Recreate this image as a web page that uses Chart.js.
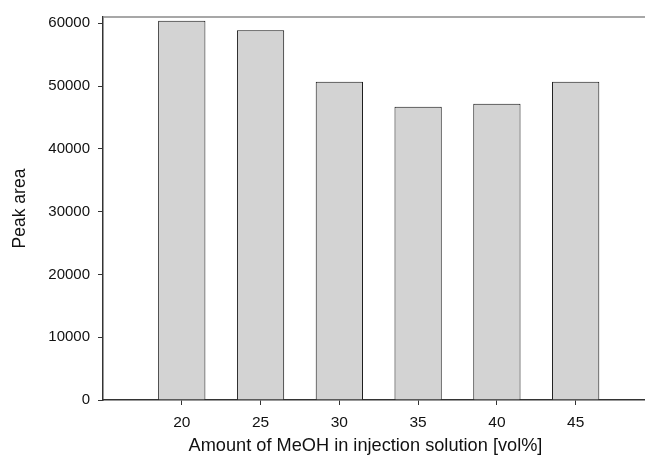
<!DOCTYPE html>
<html>
<head>
<meta charset="utf-8">
<script src="https://cdn.jsdelivr.net/npm/chart.js@4/dist/chart.umd.min.js"></script>
<style>
  html, body { margin: 0; padding: 0; background: #fff; }
  #wrap { width: 645px; height: 457px; }
</style>
</head>
<body>
<div id="wrap"><canvas id="peakChart"></canvas></div>
<script>
// MeOH content of the injection solution (vol%) and measured peak areas
const meohLevels = [20, 25, 30, 35, 40, 45];
const peakAreas = [60400, 58900, 50700, 46700, 47200, 50700];
const xTickValues = [20, 25, 30, 35, 40, 45];
const yTickValues = [0, 10000, 20000, 30000, 40000, 50000, 60000];
const xAxisTitle = 'Amount of MeOH in injection solution [vol%]';

const fontFamily = '"Liberation Sans", Arial, sans-serif';

// gray line along the top of the plot area, plus the x axis title
// (centred a little left of the axis middle)
const frameAndTitle = {
  id: 'frameAndTitle',
  afterDraw(chart) {
    const { ctx, chartArea } = chart;
    ctx.save();
    ctx.strokeStyle = '#8a8a8a';
    ctx.lineWidth = 1.5;
    ctx.beginPath();
    ctx.moveTo(chartArea.left, chartArea.top);
    ctx.lineTo(chartArea.right, chartArea.top);
    ctx.stroke();

    ctx.fillStyle = '#111';
    ctx.font = '18.2px ' + fontFamily;
    ctx.textAlign = 'center';
    ctx.textBaseline = 'alphabetic';
    ctx.fillText(xAxisTitle, 365.5, 451);
    ctx.restore();
  }
};

new Chart(document.getElementById('peakChart').getContext('2d'), {
  type: 'bar',
  data: {
    datasets: [{
      label: 'Peak area',
      data: meohLevels.map((x, i) => ({ x: x, y: peakAreas[i] })),
      backgroundColor: '#d3d3d3',
      borderColor: '#111',
      borderWidth: 1,
      categoryPercentage: 1,
      barPercentage: 0.6
    }]
  },
  plugins: [frameAndTitle],
  options: {
    responsive: true,
    maintainAspectRatio: false,
    animation: false,
    layout: { padding: { top: 14, right: 0, left: 0, bottom: 0 } },
    plugins: {
      legend: { display: false },
      tooltip: { enabled: false }
    },
    scales: {
      x: {
        type: 'linear',
        min: 15,
        max: 49.4,
        offset: false,
        afterBuildTicks: (scale) => { scale.ticks = xTickValues.map(v => ({ value: v })); },
        afterFit: (scale) => { scale.height = 57; },
        grid: { display: true, offset: false, drawOnChartArea: false, drawTicks: true, tickLength: 5, tickColor: '#333' },
        border: { display: true, color: '#333', width: 1.5 },
        ticks: {
          color: '#111',
          padding: 8,
          font: { family: fontFamily, size: 15.5 },
          callback: (v) => String(v)
        },
        title: { display: false }
      },
      y: {
        min: 0,
        max: 61000,
        afterBuildTicks: (scale) => { scale.ticks = yTickValues.map(v => ({ value: v })); },
        afterFit: (scale) => { scale.width = 103; },
        grid: { display: true, drawOnChartArea: false, drawTicks: true, tickLength: 5, tickColor: '#333' },
        border: { display: true, color: '#333', width: 1.5 },
        ticks: {
          color: '#111',
          padding: 8,
          font: { family: fontFamily, size: 15 },
          callback: (v) => String(v)
        },
        title: {
          display: true,
          text: 'Peak area',
          color: '#111',
          padding: { top: 10, bottom: 0 },
          font: { family: fontFamily, size: 17.5 }
        }
      }
    }
  }
});
</script>
</body>
</html>
